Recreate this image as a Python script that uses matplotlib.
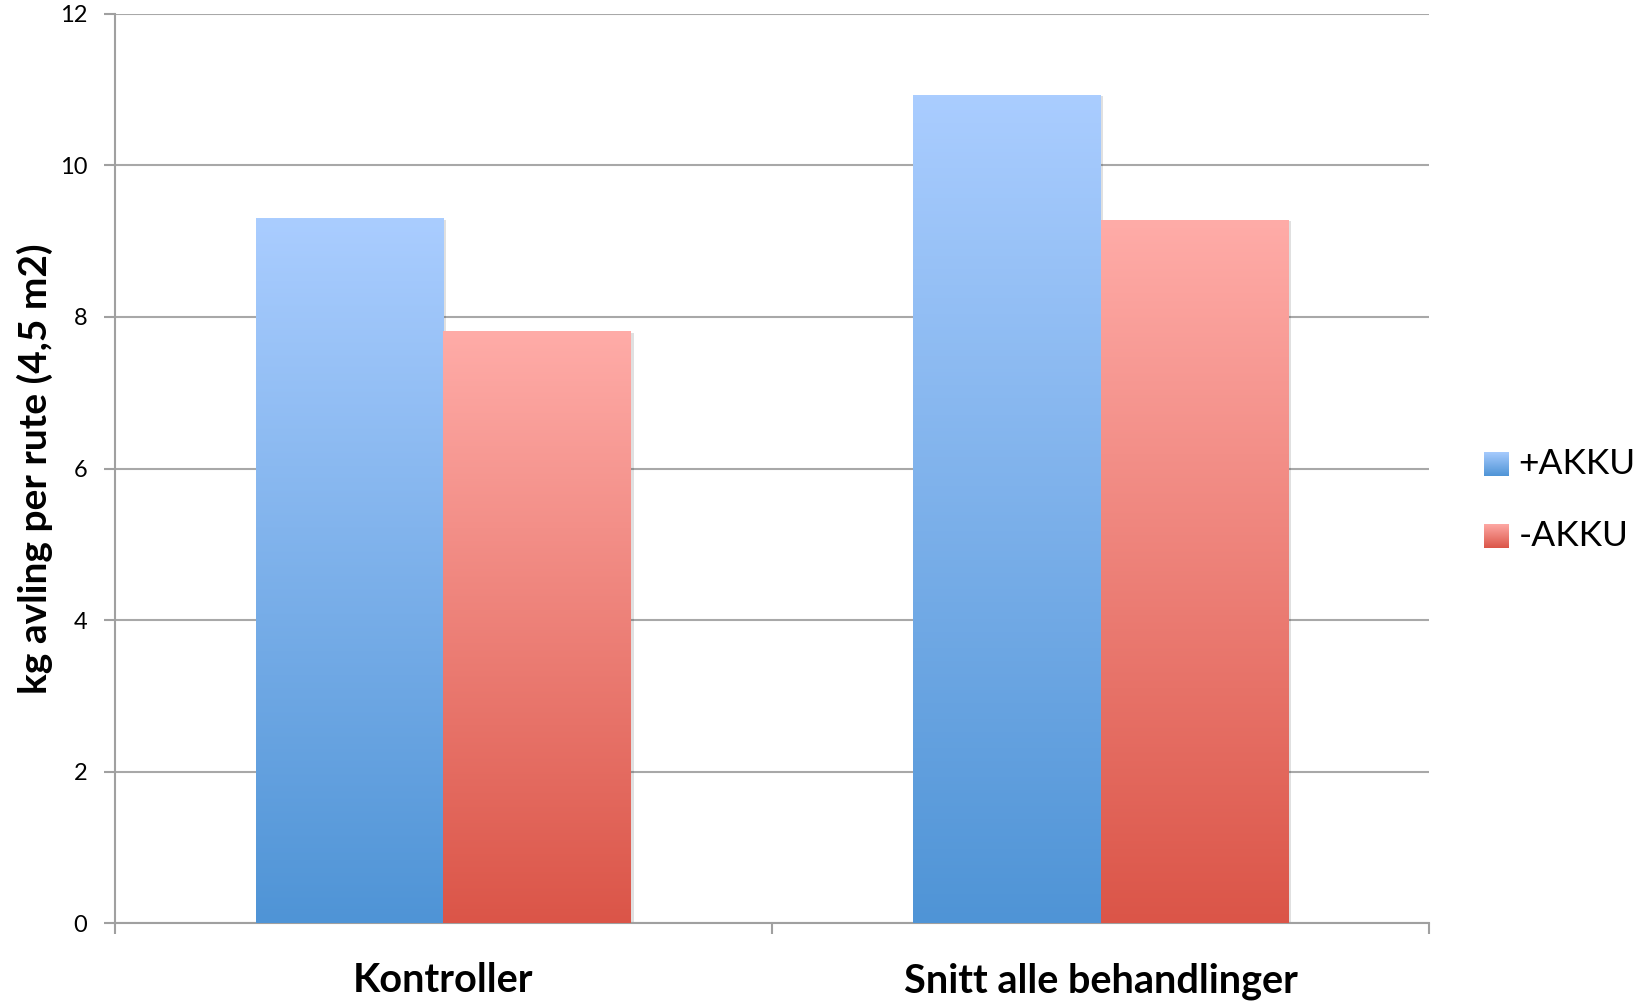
import numpy as np
import matplotlib.pyplot as plt
from matplotlib.colors import LinearSegmentedColormap
from matplotlib.patches import Rectangle

categories = ['Kontroller', 'Snitt alle behandlinger']
series = ['+AKKU', '-AKKU']
pluss_akku = [9.30, 10.93]
minus_akku = [7.81, 9.28]

# gradient top -> bottom for each series
grad_colors = {
    '+AKKU': ('#aacdff', '#4f94d6'),
    '-AKKU': ('#ffaca8', '#db5548'),
}

plt.rcParams['font.family'] = ['Lato', 'DejaVu Sans']

fig = plt.figure(figsize=(16.45, 10.02), dpi=100)
ax = fig.add_axes([0.0699, 0.0785, 0.7988, 0.9078])

x = np.arange(len(categories))
width = 0.286
grad = np.linspace(0, 1, 256).reshape(-1, 1)

for vals, name, off in [(pluss_akku, '+AKKU', -width / 2), (minus_akku, '-AKKU', width / 2)]:
    cmap = LinearSegmentedColormap.from_list(name, [grad_colors[name][1], grad_colors[name][0]])
    bars = ax.bar(x + off, vals, width, color='none', edgecolor='none', zorder=3)
    for b in bars:
        x0, y0, w, h = b.get_x(), b.get_y(), b.get_width(), b.get_height()
        # soft shadow
        sh = Rectangle((x0 + 0.004, y0), w, h - 0.02, facecolor='black', alpha=0.12,
                       edgecolor='none', zorder=2)
        ax.add_patch(sh)
        im = ax.imshow(grad, cmap=cmap, aspect='auto', origin='lower',
                       extent=[x0, x0 + w, y0, y0 + h], zorder=3)
        im.set_clip_path(b)

ax.set_xlim(-0.5, 1.5)
ax.set_ylim(0, 12)
ax.set_yticks(range(0, 13, 2))
ax.set_xticks([-0.5, 0.5, 1.5])
ax.set_xticklabels([])
ax.set_xticks(x, minor=True)
ax.set_xticklabels(categories, minor=True, fontsize=28.5, fontweight='bold')
ax.tick_params(axis='x', which='minor', length=0, pad=28)
ax.tick_params(axis='x', which='major', length=8, direction='out', color='#a0a0a0', width=1.5)
ax.tick_params(axis='y', length=8, direction='out', color='#a0a0a0', width=1.5,
               labelsize=17, pad=12)

ax.grid(axis='y', color='#a8a8a8', linewidth=1.5, zorder=0)
for s in ['top', 'right']:
    ax.spines[s].set_visible(False)
for s in ['left', 'bottom']:
    ax.spines[s].set_color('#a0a0a0')
    ax.spines[s].set_linewidth(1.5)
ax.set_axisbelow(True)

ax.set_ylabel('kg avling per rute (4,5 m2)', fontsize=28, fontweight='bold')
ax.yaxis.set_label_coords(-0.047, 0.5)

# legend with gradient squares
for i, name in enumerate(series):
    yc = 0.537 - i * 0.072
    top, bot = grad_colors[name]
    cmap = LinearSegmentedColormap.from_list(name + 'L', [bot, top])
    lax = fig.add_axes([0.9021, yc - 0.012, 0.0146, 0.024])
    lax.imshow(grad, cmap=cmap, aspect='auto', origin='lower')
    lax.axis('off')
    fig.text(0.9230, yc, name, fontsize=25.5, va='center', ha='left')

fig.savefig('out.png', dpi=100)
